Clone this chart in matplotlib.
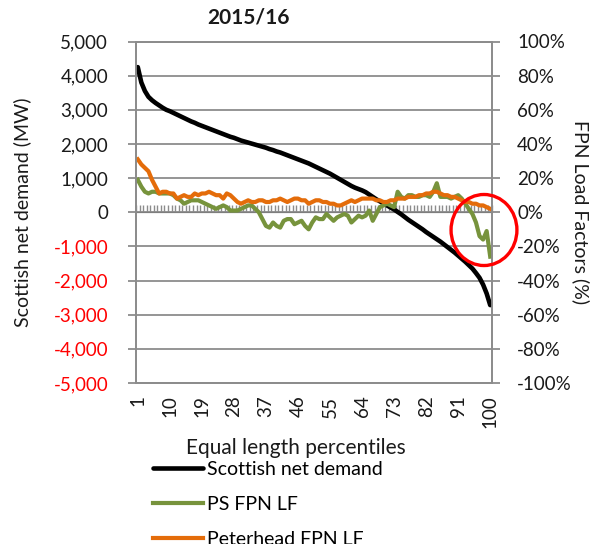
import numpy as np
import matplotlib
matplotlib.use("Agg")
import matplotlib.pyplot as plt
from matplotlib.patches import Ellipse
from matplotlib.ticker import FuncFormatter

plt.rcParams['font.family'] = ['Lato', 'DejaVu Sans']

# Percentiles 1..100
percentiles = list(range(1, 101))

# Scottish net demand (MW)
net_demand = [
    4250, 3800, 3550, 3380, 3280, 3200, 3130, 3060, 3000, 2960,
    2910, 2860, 2810, 2760, 2710, 2660, 2620, 2570, 2530, 2490,
    2450, 2410, 2370, 2330, 2290, 2250, 2210, 2180, 2140, 2100,
    2070, 2040, 2010, 1980, 1950, 1920, 1890, 1850, 1820, 1780,
    1750, 1710, 1670, 1630, 1590, 1550, 1510, 1470, 1430, 1380,
    1330, 1280, 1230, 1180, 1130, 1070, 1010, 950, 890, 830,
    770, 720, 680, 640, 590, 520, 450, 380, 320, 260,
    200, 140, 80, 10, -60, -140, -220, -290, -360, -430,
    -500, -580, -650, -720, -790, -860, -940, -1020, -1100, -1180,
    -1270, -1360, -1450, -1550, -1650, -1780, -1920, -2120, -2380, -2720,
]

# PS FPN load factor (%)
ps_fpn_lf = [
    19, 15, 12, 11, 12, 12, 11, 11, 11, 11,
    10, 8, 7, 5, 6, 7, 7, 7, 6, 5,
    4, 3, 2, 3, 4, 3, 1, 1, 1, 2,
    3, 4, 4, 2, 0, -4, -8, -9, -6, -8,
    -9, -5, -4, -4, -7, -6, -5, -8, -10, -6,
    -3, -4, -4, -1, -3, -5, -3, -2, -1, -2,
    -6, -4, -2, -3, -2, 1, -5, -1, 3, 4,
    5, 4, 3, 12, 9, 8, 10, 10, 9, 9,
    10, 10, 9, 12, 17, 9, 9, 9, 8, 9,
    10, 8, 5, 2, -1, -6, -14, -16, -11, -26,
]

# Peterhead FPN load factor (%)
peterhead_fpn_lf = [
    31, 28, 26, 24, 19, 15, 11, 12, 12, 11,
    11, 8, 9, 10, 9, 9, 11, 10, 11, 11,
    12, 11, 10, 10, 8, 11, 10, 8, 6, 5,
    6, 7, 6, 6, 7, 7, 6, 6, 7, 7,
    8, 7, 6, 7, 8, 8, 7, 7, 5, 6,
    7, 7, 6, 6, 5, 5, 4, 4, 5, 6,
    7, 6, 7, 8, 8, 8, 8, 7, 7, 6,
    6, 7, 7, 8, 8, 8, 9, 9, 9, 10,
    10, 11, 11, 12, 12, 11, 10, 10, 9, 9,
    8, 7, 6, 6, 5, 5, 4, 4, 3, 2,
]

x_labels = list(range(1, 101, 9))

grid_col = '#8c8c8c'
txt_col = '#1a1a1a'

fig = plt.figure(figsize=(5.9, 5.44), dpi=100)
ax = fig.add_axes([136 / 590, 1 - 383 / 544, 356 / 590, 341.5 / 544])
ax2 = ax.twinx()

# series: demand on the left axis, load factors on the right
ax.plot(percentiles, net_demand, color='black', lw=3.3, label='Scottish net demand',
        solid_capstyle='round', zorder=3)
ax2.plot(percentiles, ps_fpn_lf, color='#77933C', lw=3.0, label='PS FPN LF')
ax2.plot(percentiles, peterhead_fpn_lf, color='#E46C0A', lw=3.0, label='Peterhead FPN LF')

# left axis
ax.set_xlim(0.5, 100.5)
ax.set_ylim(-5000, 5000)
ax.set_yticks(range(-5000, 5001, 1000))
ax.yaxis.set_major_formatter(FuncFormatter(lambda v, p: f'{int(v):,}'))
ax.grid(axis='y', color=grid_col, lw=1.3)
ax.set_axisbelow(True)
ax.tick_params(axis='y', length=6, width=1.3, color=grid_col, pad=14, labelsize=13.5)
for v, lbl in zip(ax.get_yticks(), ax.get_yticklabels()):
    lbl.set_color('red' if v < 0 else txt_col)

ax.set_xticks(x_labels)
ax.set_xticklabels([str(v) for v in x_labels], rotation=90, fontsize=13.5, color=txt_col)
ax.tick_params(axis='x', length=0, pad=9)

for side in ['left', 'right', 'bottom', 'top']:
    for a in (ax, ax2):
        a.spines[side].set_color(grid_col)
        a.spines[side].set_linewidth(1.3)

# category tick marks along the zero line
sec = ax.secondary_xaxis(0.5)
sec.set_xticks(np.arange(0.5, 101, 1.0))
sec.set_xticklabels([])
sec.tick_params(axis='x', direction='out', length=5, width=1.0, color=grid_col)
sec.spines['bottom'].set_color(grid_col)
sec.spines['bottom'].set_linewidth(1.3)

# right axis
ax2.set_ylim(-100, 100)
ax2.set_yticks(range(-100, 101, 20))
ax2.yaxis.set_major_formatter(FuncFormatter(lambda v, p: f'{int(v)}%'))
ax2.tick_params(axis='y', length=6, width=1.3, color=grid_col, pad=12, labelsize=13.5,
                labelcolor=txt_col)

ax.set_ylabel('Scottish net demand (MW)', fontsize=14, color=txt_col)
ax2.set_ylabel('FPN Load Factors (%)', fontsize=14, color=txt_col, rotation=270)
ax.yaxis.set_label_coords(-0.295, 0.5)
ax2.yaxis.set_label_coords(1.274, 0.5)
ax.set_xlabel('Equal length percentiles', fontsize=15, color=txt_col)
ax.xaxis.set_label_coords(0.45, -0.16)

fig.text(249 / 590, 1 - 18 / 544, '2015/16', ha='center', va='center',
         fontsize=15, fontweight='bold', color=txt_col)

# red highlight circle
ax2.add_patch(Ellipse((98.25, -10.4), width=18.5, height=41.6, fill=False,
                      edgecolor='red', lw=2.4, clip_on=False, zorder=10))

# legend below the chart (last entry runs off the bottom, as in the original)
handles = ax.get_lines() + ax2.get_lines()
fig.legend(handles, [h.get_label() for h in handles], loc='upper left',
           bbox_to_anchor=(145 / 590, 1 - 453 / 544), frameon=False, fontsize=14,
           handlelength=2.6, handletextpad=0.2, labelspacing=0.92, borderaxespad=0)

fig.savefig('out.png', dpi=100)
